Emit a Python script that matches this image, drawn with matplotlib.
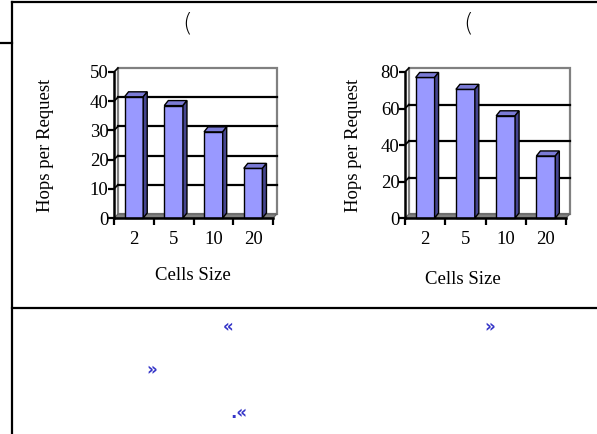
import matplotlib
matplotlib.use("Agg")
import matplotlib.pyplot as plt
from matplotlib.patches import Polygon, Rectangle
from matplotlib.lines import Line2D

# data
cells = ["2", "5", "10", "20"]
hops_a = [41.5, 38.5, 29.5, 17]
hops_b = [77, 70.5, 56, 34]

W, H = 597, 434
fig = plt.figure(figsize=(W / 100, H / 100), dpi=100)
serif = "Liberation Serif"

FRONT = "#9999ff"
TOP = "#7b7bd6"
SIDE = "#45458f"


def fx(x):
    return x / W


def fy(y):
    return 1 - y / H


def draw_chart(rect, vals, ymax, step):
    ax = fig.add_axes(rect)
    ax.set_facecolor("none")
    ax.set_xlim(-0.5, len(vals) - 0.5)
    ax.set_ylim(0, ymax)
    wpx = rect[2] * W
    hpx = rect[3] * H
    # 3d depth offsets (pixels -> data units)
    dx = 4 / (wpx / len(vals))
    dy = 4 / (hpx / ymax)
    bdx = 4 / (wpx / len(vals))
    bdy = 5 / (hpx / ymax)
    x0, x1 = -0.5, len(vals) - 0.5

    # back wall
    ax.add_patch(Rectangle((x0 + dx, dy), x1 - x0, ymax, facecolor="white",
                           edgecolor="#808080", lw=1.6, clip_on=False, zorder=0))
    # gridlines on back wall and side wall
    for v in range(step, ymax, step):
        ax.plot([x0 + dx, x1 + dx], [v + dy, v + dy], color="black", lw=1.6,
                clip_on=False, zorder=1)
        ax.plot([x0, x0 + dx], [v, v + dy], color="black", lw=1.2,
                clip_on=False, zorder=1)
    # floor
    ax.add_patch(Polygon([(x0, 0), (x1, 0), (x1 + dx, dy), (x0 + dx, dy)],
                         closed=True, facecolor="#808080", edgecolor="#606060",
                         lw=0.8, clip_on=False, zorder=1))
    ax.plot([x0, x0 + dx], [ymax, ymax + dy], color="black", lw=1.2,
            clip_on=False, zorder=1)

    # bars
    xs = list(range(len(vals)))
    bw = 0.47
    ax.bar(xs, vals, width=bw, color=FRONT, edgecolor="black", lw=1.0,
           zorder=3, clip_on=False)
    for x, v in zip(xs, vals):
        l, r = x - bw / 2, x + bw / 2
        ax.add_patch(Polygon([(l, v), (r, v), (r + bdx, v + bdy), (l + bdx, v + bdy)],
                             closed=True, facecolor=TOP, edgecolor="black",
                             lw=1.0, clip_on=False, zorder=3))
        ax.add_patch(Polygon([(r, 0), (r + bdx, bdy), (r + bdx, v + bdy), (r, v)],
                             closed=True, facecolor=SIDE, edgecolor="black",
                             lw=1.0, clip_on=False, zorder=3))

    for s in ["top", "right"]:
        ax.spines[s].set_visible(False)
    for s in ["left", "bottom"]:
        ax.spines[s].set_linewidth(1.8)
        ax.spines[s].set_zorder(4)

    ax.set_yticks(range(0, ymax + 1, step))
    ax.set_yticklabels([str(v) for v in range(0, ymax + 1, step)],
                       fontfamily=serif, fontsize=13.5)
    ax.tick_params(axis="y", direction="out", length=4, width=1.6, pad=0)
    ax.set_xticks(xs)
    ax.set_xticklabels(cells, fontfamily=serif, fontsize=13.5)
    ax.set_xticks([i - 0.5 for i in range(len(vals) + 1)], minor=True)
    ax.tick_params(axis="x", which="major", length=0, pad=9)
    ax.tick_params(axis="x", which="minor", direction="out", length=5, width=1.6)
    return ax


draw_chart([fx(114), fy(218), 159 / W, 146 / H], hops_a, 50, 10)
draw_chart([fx(405), fy(218), 161 / W, 146 / H], hops_b, 80, 20)

# axis titles
fig.text(fx(46), fy(145), "Hops per Request", rotation=90, ha="center",
         va="center", fontfamily=serif, fontsize=13.5)
fig.text(fx(353), fy(145), "Hops per Request", rotation=90, ha="center",
         va="center", fontfamily=serif, fontsize=13.5)
fig.text(fx(193), fy(275), "Cells Size", ha="center", va="center",
         fontfamily=serif, fontsize=13.5)
fig.text(fx(463), fy(280), "Cells Size", ha="center", va="center",
         fontfamily=serif, fontsize=13.5)

# caption remnants
fig.text(fx(187), fy(23), "(", ha="center", va="center", fontsize=18,
         fontfamily="DejaVu Sans", fontweight="light")
fig.text(fx(468), fy(23), "(", ha="center", va="center", fontsize=18,
         fontfamily="DejaVu Sans", fontweight="light")

blue = "#3535c8"
for x, y, s in [(228, 327, "\u00ab"), (490, 327, "\u00bb"),
                (152, 370, "\u00bb"), (239, 413, ".\u00ab")]:
    fig.text(fx(x), fy(y), s, ha="center", va="center", fontsize=12,
             color=blue, fontfamily="DejaVu Sans", fontweight="bold")

# table borders
for (xa, ya), (xb, yb) in [((12, 2), (597, 2)), ((12, 2), (12, 434)),
                           ((0, 43), (12, 43)), ((12, 308), (597, 308))]:
    fig.add_artist(Line2D([fx(xa), fx(xb)], [fy(ya), fy(yb)], color="black",
                          lw=1.6))

fig.savefig("out.png", dpi=100)
